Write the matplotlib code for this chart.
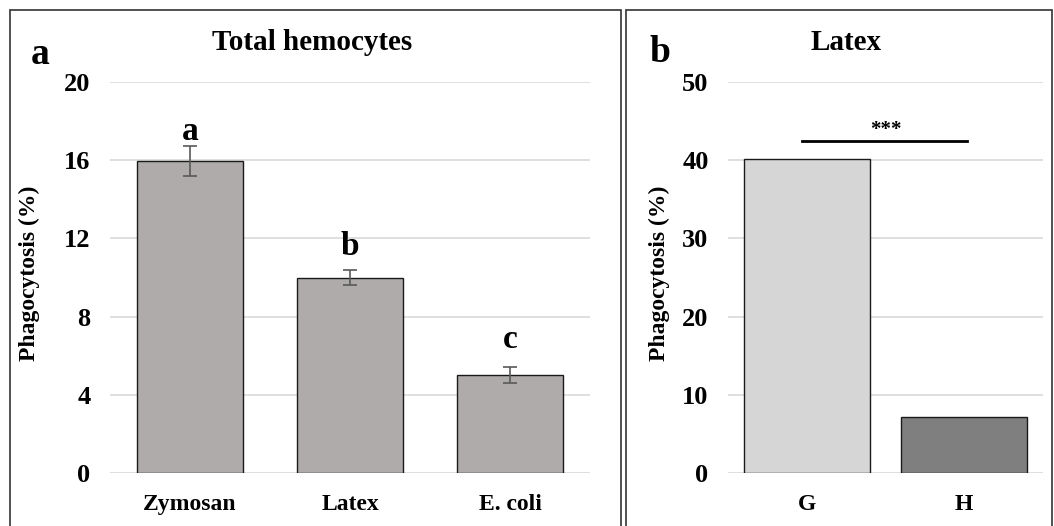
import numpy as np
import matplotlib.pyplot as plt
from matplotlib.patches import Rectangle

# 数据
cats_a = ['Zymosan', 'Latex', 'E. coli']
vals_a = [15.95, 10.0, 5.0]
errs_a = [0.78, 0.4, 0.42]
letters_a = ['a', 'b', 'c']
letter_y_a = [17.05, 11.15, 6.4]

cats_b = ['G', 'H']
vals_b = [40.1, 7.2]
sig_b = '***'
sig_y_b = 42.4

W, H = 1054, 526
plt.rcParams['font.family'] = ['Liberation Serif', 'DejaVu Serif']
plt.rcParams['font.weight'] = 'bold'

fig = plt.figure(figsize=(W / 100, H / 100), dpi=100)


def px_axes(x0, x1, ytop, ybot):
    return fig.add_axes([x0 / W, 1 - ybot / H, (x1 - x0) / W, (ybot - ytop) / H])


def fx(x):
    return x / W


def fy(y):
    return 1 - y / H


# 面板边框
fig.patches.append(Rectangle((fx(10), fy(530)), fx(611), (530 - 10) / H,
                             transform=fig.transFigure, fill=False,
                             edgecolor='#333333', lw=1.2))
fig.patches.append(Rectangle((fx(626), fy(530)), fx(426), (530 - 10) / H,
                             transform=fig.transFigure, fill=False,
                             edgecolor='#333333', lw=1.2))


def style_axes(ax, ymax, step, label_x):
    ax.set_ylim(0, ymax)
    ax.set_yticks(np.arange(0, ymax + 0.1, step))
    for s in ax.spines.values():
        s.set_visible(False)
    ax.yaxis.grid(True, color='#d9d9d9', lw=1.2)
    ax.set_axisbelow(True)
    ax.tick_params(length=0, labelsize=19)
    ax.tick_params(axis='y', pad=14)
    ax.tick_params(axis='x', pad=15, labelsize=17)
    ax.set_ylabel('Phagocytosis (%)', fontsize=17, fontweight='bold')
    ax.yaxis.set_label_coords(label_x, 0.51)


# 面板 a
ax1 = px_axes(110, 590, 82, 473)
x1 = np.arange(len(cats_a))
ax1.bar(x1, vals_a, width=0.66, color='#b0abab', edgecolor='#1a1a1a', lw=1.0)
ax1.errorbar(x1, vals_a, yerr=errs_a, fmt='none', ecolor='#595959',
             elinewidth=1.2, capsize=5, capthick=1.2)
ax1.set_xlim(-0.5, 2.5)
ax1.set_xticks(x1)
ax1.set_xticklabels(cats_a, fontweight='bold')
style_axes(ax1, 20, 4, -0.146)
for xi, ly, t in zip(x1, letter_y_a, letters_a):
    ax1.text(xi, ly, t, ha='center', va='baseline', fontsize=24,
             fontweight='bold')

fig.text(fx(312), fy(42), 'Total hemocytes', ha='center', va='center',
         fontsize=21, fontweight='bold')
fig.text(fx(40), fy(55), 'a', ha='center', va='center', fontsize=27,
         fontweight='bold')

# 面板 b
ax2 = px_axes(728, 1043, 82, 473)
x2 = np.arange(len(cats_b))
ax2.bar(x2, vals_b, width=0.8, color=['#d6d6d6', '#7f7f7f'],
        edgecolor='#1a1a1a', lw=1.0)
ax2.set_xlim(-0.5, 1.5)
ax2.set_xticks(x2)
ax2.set_xticklabels(cats_b, fontweight='bold')
style_axes(ax2, 50, 10, -0.184)
ax2.plot([-0.03, 1.02], [sig_y_b, sig_y_b], color='black', lw=2)
ax2.text(0.5, sig_y_b + 0.2, sig_b, ha='center', va='bottom', fontsize=15,
         fontweight='bold')

fig.text(fx(846), fy(42), 'Latex', ha='center', va='center',
         fontsize=21, fontweight='bold')
fig.text(fx(660), fy(52), 'b', ha='center', va='center', fontsize=27,
         fontweight='bold')

fig.savefig('out.png', dpi=100)
